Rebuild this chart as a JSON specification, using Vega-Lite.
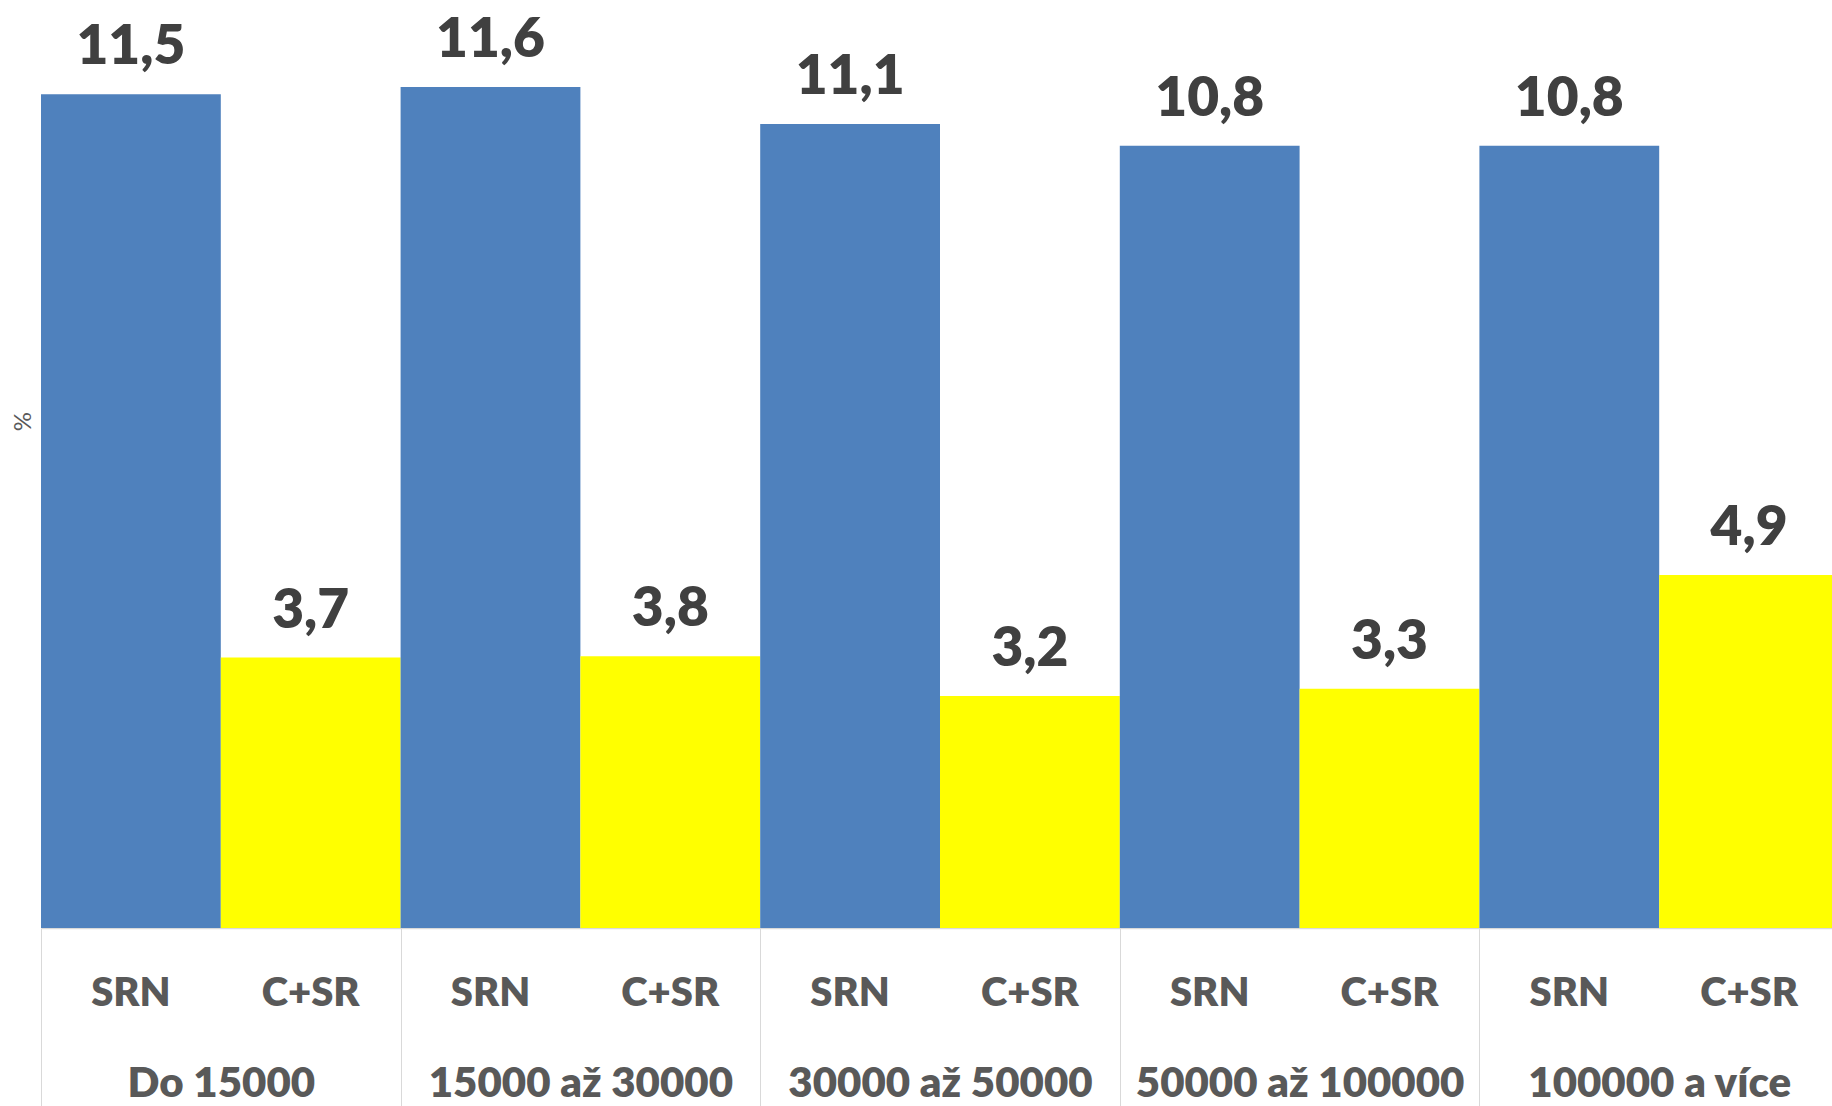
{
  "$schema": "https://vega.github.io/schema/vega-lite/v6.json",
  "width": 1798,
  "height": 928,
  "autosize": {"type": "none"},
  "padding": {"left": 41, "top": 0, "right": -7, "bottom": 178},
  "background": "white",
  "config": {
    "view": {"stroke": null},
    "font": "Lato",
    "locale": {"number": {"decimal": ",", "thousands": " ", "grouping": [3], "currency": ["", " Kč"]}}
  },
  "data": {
    "values": [
      {"group": "Do 15000", "series": "SRN", "key": "Do 15000|SRN", "value": 11.5},
      {"group": "Do 15000", "series": "C+SR", "key": "Do 15000|C+SR", "value": 3.73},
      {"group": "15000 až 30000", "series": "SRN", "key": "15000 až 30000|SRN", "value": 11.6},
      {"group": "15000 až 30000", "series": "C+SR", "key": "15000 až 30000|C+SR", "value": 3.75},
      {"group": "30000 až 50000", "series": "SRN", "key": "30000 až 50000|SRN", "value": 11.09},
      {"group": "30000 až 50000", "series": "C+SR", "key": "30000 až 50000|C+SR", "value": 3.2},
      {"group": "50000 až 100000", "series": "SRN", "key": "50000 až 100000|SRN", "value": 10.79},
      {"group": "50000 až 100000", "series": "C+SR", "key": "50000 až 100000|C+SR", "value": 3.3},
      {"group": "100000 a více", "series": "SRN", "key": "100000 a více|SRN", "value": 10.79},
      {"group": "100000 a více", "series": "C+SR", "key": "100000 a více|C+SR", "value": 4.87}
    ]
  },
  "layer": [
    {
      "encoding": {
        "x": {
          "field": "key", "type": "nominal", "sort": null,
          "scale": {"type": "band", "paddingInner": 0, "paddingOuter": 0},
          "axis": {
            "title": null, "orient": "bottom",
            "labelExpr": "split(datum.label, '|')[1]",
            "ticks": false, "tickSize": 0, "grid": false,
            "domain": true, "domainColor": "#d9d9d9", "domainWidth": 1.5,
            "labelFont": "Lato", "labelFontSize": 40, "labelFontWeight": 800,
            "labelColor": "#595959", "labelBaseline": "alphabetic", "labelPadding": 77,
            "labelAngle": 0, "labelLimit": 0
          }
        },
        "y": {
          "field": "value", "type": "quantitative",
          "scale": {"domain": [0, 12.8], "nice": false, "zero": true},
          "axis": {
            "title": "%", "labels": false, "ticks": false, "domain": false, "grid": false,
            "titleFont": "Lato", "titleFontSize": 24, "titleFontWeight": "normal",
            "titleColor": "#595959", "titlePadding": 6, "titleY": 421
          }
        }
      },
      "layer": [
        {
          "mark": {"type": "bar"},
          "encoding": {
            "color": {
              "field": "series", "type": "nominal",
              "scale": {"domain": ["SRN", "C+SR"], "range": ["#4f81bd", "#ffff00"]},
              "legend": null
            }
          }
        },
        {
          "mark": {"type": "text", "dy": -30, "baseline": "alphabetic", "align": "center",
                   "fontSize": 55, "fontWeight": 800, "color": "#404040", "font": "Lato"},
          "encoding": {
            "text": {"field": "value", "type": "quantitative", "format": ".1f"}
          }
        }
      ]
    },
    {
      "mark": {"type": "bar", "opacity": 0},
      "encoding": {
        "x": {
          "field": "group", "type": "nominal", "sort": null,
          "scale": {"type": "band", "paddingInner": 0, "paddingOuter": 0},
          "axis": {
            "title": null, "orient": "bottom", "domain": false, "grid": false,
            "ticks": true, "tickBand": "extent", "tickSize": 178,
            "tickColor": "#d9d9d9", "tickWidth": 1,
            "labelFont": "Lato", "labelFontSize": 42, "labelFontWeight": 800,
            "labelColor": "#595959", "labelBaseline": "alphabetic", "labelPadding": -10,
            "labelAngle": 0, "labelLimit": 0
          }
        }
      }
    }
  ],
  "resolve": {"scale": {"x": "independent"}, "axis": {"x": "independent"}}
}
